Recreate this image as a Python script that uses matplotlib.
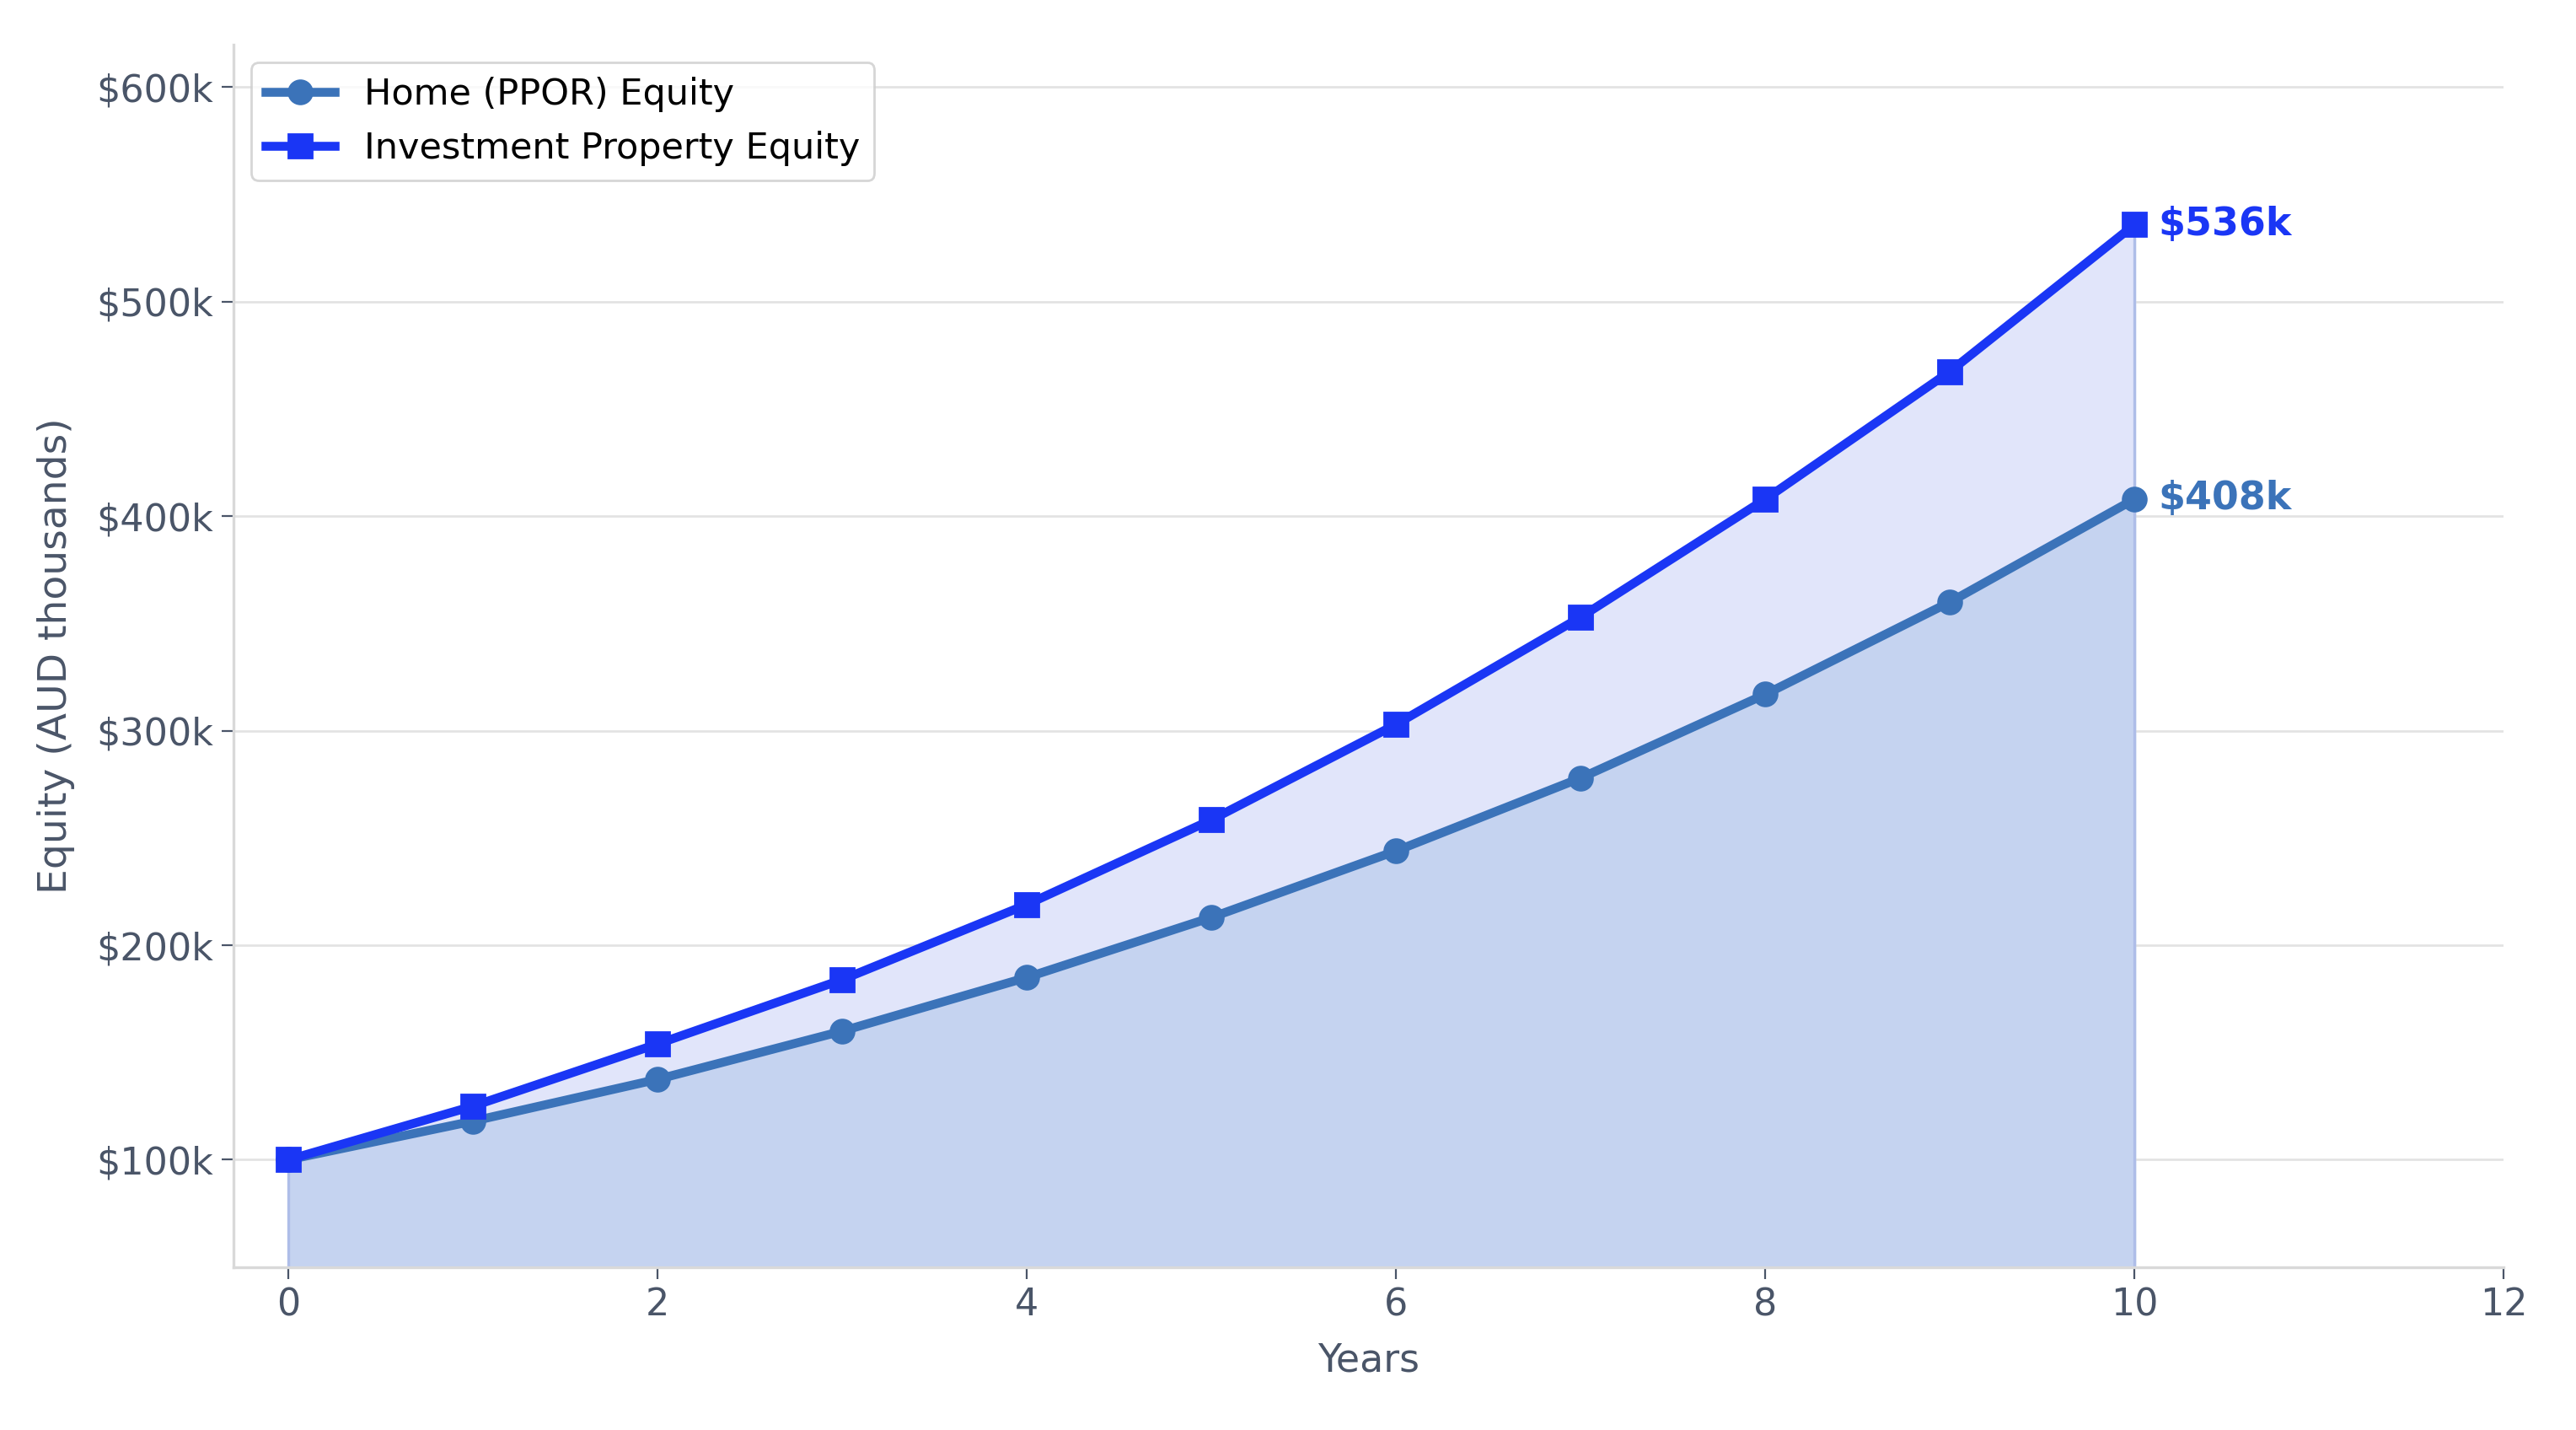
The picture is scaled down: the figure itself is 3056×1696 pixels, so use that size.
import matplotlib
matplotlib.use('Agg')
import matplotlib.pyplot as plt

years = [0, 1, 2, 3, 4, 5, 6, 7, 8, 9, 10]
home_equity = [100, 118, 137.5, 160, 185, 213, 244, 278, 317, 360, 408]
invest_equity = [100, 125, 154, 184, 219, 258.5, 303, 353, 408, 467.5, 536]

home_color = '#3b73b9'
invest_color = '#1a36f5'
text_color = '#4a5568'

fig = plt.figure(figsize=(15.28, 8.48), dpi=200)
ax = fig.add_axes([0.0905, 0.114, 0.8815, 0.855])

ymin = 50
ax.fill_between(years, home_equity, invest_equity, color='#e1e5fa', zorder=1)
ax.fill_between(years, ymin, home_equity, color='#c5d3f0', zorder=1)
ax.plot([10, 10], [ymin, invest_equity[-1]], color='#aebde8', lw=1.2, zorder=1)
ax.plot([0, 0], [ymin, 100], color='#aebde8', lw=1.2, zorder=1)

ax.plot(years, home_equity, color=home_color, lw=3.8, marker='o', markersize=10,
        label='Home (PPOR) Equity', zorder=3)
ax.plot(years, invest_equity, color=invest_color, lw=3.8, marker='s', markersize=10,
        label='Investment Property Equity', zorder=4)

ax.annotate(f"${invest_equity[-1]:.0f}k", (years[-1], invest_equity[-1]), xytext=(10, 0),
            textcoords='offset points', va='center', ha='left', fontsize=16.5,
            fontweight='bold', color=invest_color)
ax.annotate(f"${home_equity[-1]:.0f}k", (years[-1], home_equity[-1]), xytext=(10, 0),
            textcoords='offset points', va='center', ha='left', fontsize=16.5,
            fontweight='bold', color=home_color)

ax.set_xlim(-0.3, 12)
ax.set_ylim(ymin, 620)
ax.set_xticks([0, 2, 4, 6, 8, 10, 12])
ax.set_yticks([100, 200, 300, 400, 500, 600])
ax.set_yticklabels([f"${v}k" for v in [100, 200, 300, 400, 500, 600]])
ax.grid(axis='y', color='#e3e3e3', lw=1)
ax.set_axisbelow(True)

for s in ['top', 'right']:
    ax.spines[s].set_visible(False)
for s in ['left', 'bottom']:
    ax.spines[s].set_color('#d9d9d9')
    ax.spines[s].set_linewidth(1.2)
ax.tick_params(colors=text_color, labelsize=16, length=5)

ax.set_xlabel('Years', fontsize=16.5, color=text_color, labelpad=8)
ax.set_ylabel('Equity (AUD thousands)', fontsize=17, color=text_color, labelpad=9)

leg = ax.legend(loc='upper left', fontsize=15.5, frameon=True, borderpad=0.4,
                handlelength=1.9, labelspacing=0.5)
leg.get_frame().set_edgecolor('#cccccc')

fig.savefig('out.png', dpi=200)
